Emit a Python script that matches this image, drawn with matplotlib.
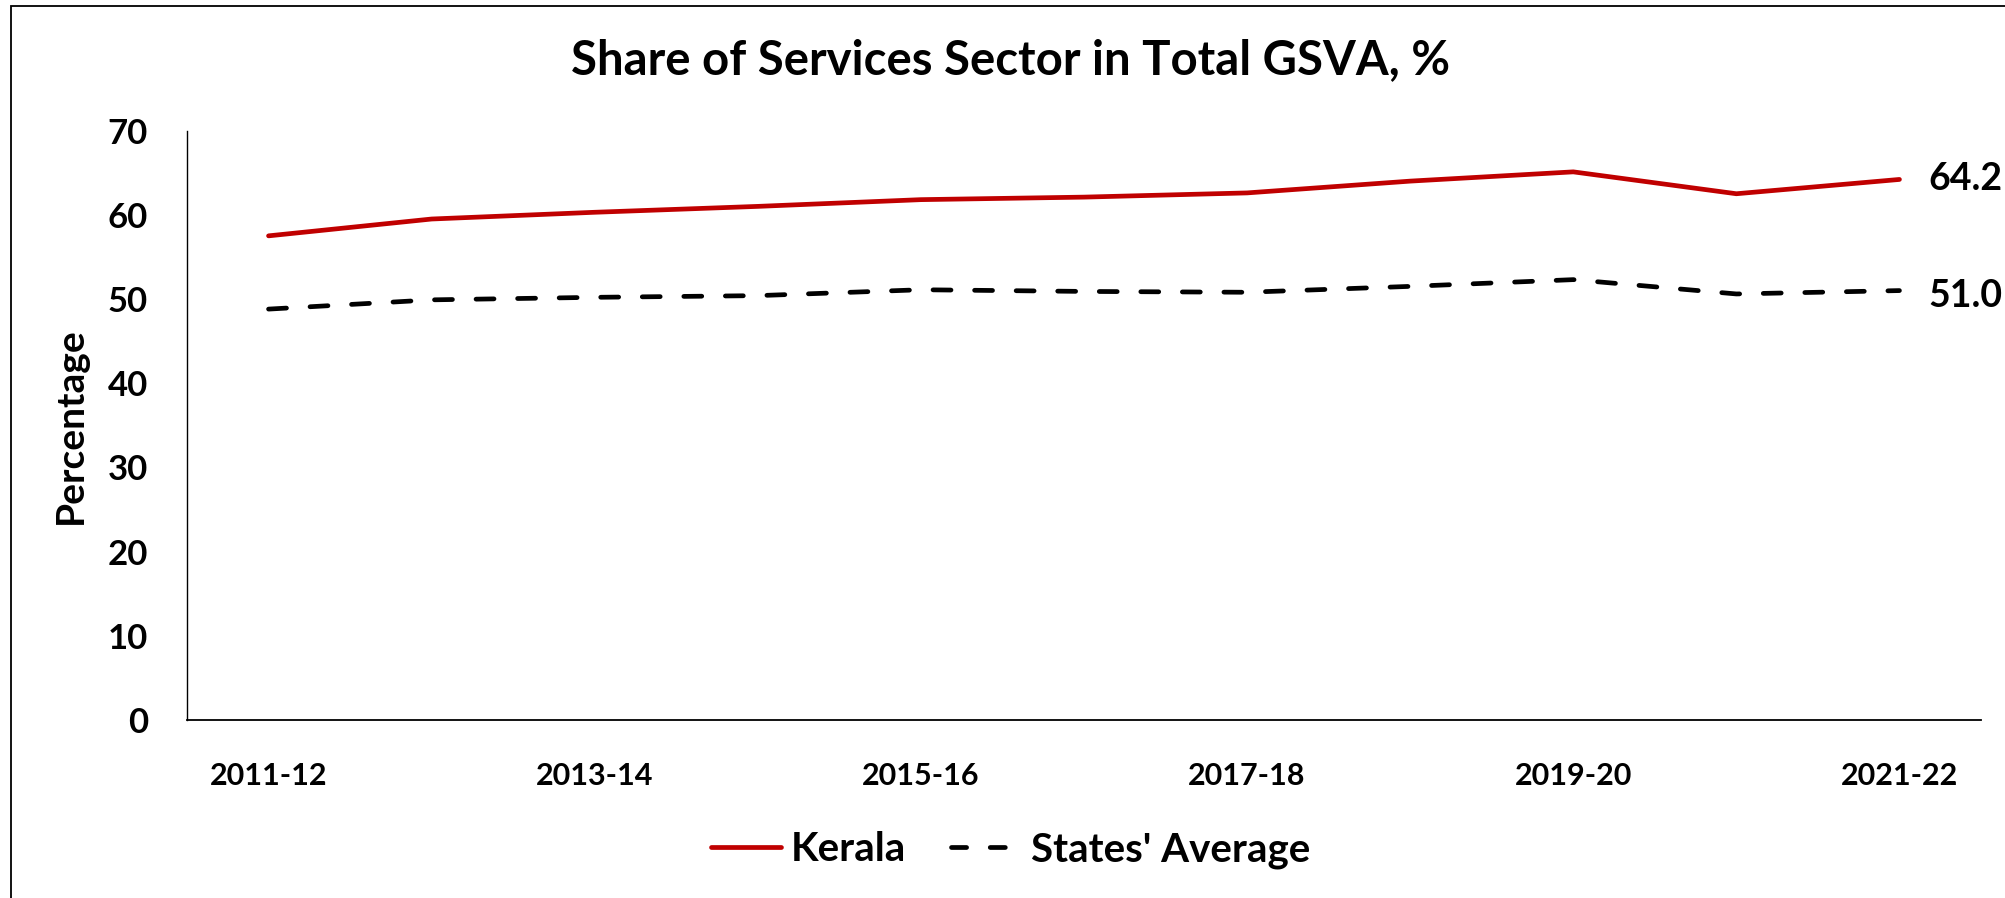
import matplotlib
matplotlib.use("Agg")
import matplotlib.pyplot as plt
from matplotlib.patches import Rectangle
from matplotlib.lines import Line2D

years = ["2011-12", "2012-13", "2013-14", "2014-15", "2015-16", "2016-17",
         "2017-18", "2018-19", "2019-20", "2020-21", "2021-22"]
kerala = [57.5, 59.5, 60.3, 61.0, 61.8, 62.1, 62.6, 64.0, 65.1, 62.5, 64.2]
states_avg = [48.8, 49.9, 50.2, 50.4, 51.1, 50.9, 50.8, 51.5, 52.3, 50.6, 51.0]
yticks = [0, 10, 20, 30, 40, 50, 60, 70]

plt.rcParams['font.family'] = ['Lato', 'DejaVu Sans']

W, H = 2005, 898
fig = plt.figure(figsize=(W / 100, H / 100), dpi=100)
fig.patch.set_facecolor("white")

ax = fig.add_axes([187 / W, 1 - 720 / H, (1981 - 187) / W, (720 - 130.6) / H])
x = list(range(len(years)))
ax.plot(x, kerala, color="#C00000", lw=3.4, solid_capstyle="round", label="Kerala")
ax.plot(x, states_avg, color="black", lw=3.4, dashes=(3.8, 5.0),
        dash_capstyle="round", label="States' Average")

ax.set_xlim(-0.5, len(years) - 0.5)
ax.set_ylim(0, 70)
ax.set_yticks(yticks)
ax.set_yticklabels([str(t) for t in yticks])
ax.set_xticks(x[::2])
ax.set_xticklabels(years[::2])
ax.tick_params(axis="both", length=0)
ax.tick_params(axis="x", labelsize=22, pad=30)
ax.tick_params(axis="y", labelsize=25, pad=28)
for lab in ax.get_xticklabels() + ax.get_yticklabels():
    lab.set_fontweight("bold")
for s in ["top", "right"]:
    ax.spines[s].set_visible(False)
ax.spines["left"].set_linewidth(1.0)
ax.spines["bottom"].set_linewidth(1.3)

ax.set_ylabel("Percentage", fontsize=28, fontweight="bold", labelpad=14)

ax.annotate(f"{kerala[-1]:.1f}", xy=(x[-1], kerala[-1]), xytext=(21, 0),
            textcoords="offset points", va="center", ha="left",
            fontsize=27, fontweight="bold", annotation_clip=False)
ax.annotate(f"{states_avg[-1]:.1f}", xy=(x[-1], states_avg[-1]), xytext=(21, -4),
            textcoords="offset points", va="center", ha="left",
            fontsize=27, fontweight="bold", annotation_clip=False)

fig.text(0.504, 1 - 60 / H, "Share of Services Sector in Total GSVA, %",
         ha="center", va="center", fontsize=34, fontweight="bold")

handles = [Line2D([], [], color="#C00000", lw=3.4, solid_capstyle="round"),
           Line2D([], [], color="black", lw=3.4, dashes=(3.2, 5.0), dash_capstyle="round")]
fig.legend(handles, ["Kerala", "States' Average"], loc="center",
           bbox_to_anchor=(0.504, 1 - 850 / H), ncol=2, frameon=False,
           prop={"size": 29, "weight": "bold"}, handlelength=1.75,
           handletextpad=0.25, columnspacing=1.1)

# outer chart border (cropped at right and bottom)
fig.add_artist(Rectangle((11 / W, -0.05), 1.2, 1 - 6 / H + 0.05,
                         transform=fig.transFigure, fill=False,
                         edgecolor="black", lw=1.3))

fig.savefig("out.png", dpi=100, facecolor="white")
